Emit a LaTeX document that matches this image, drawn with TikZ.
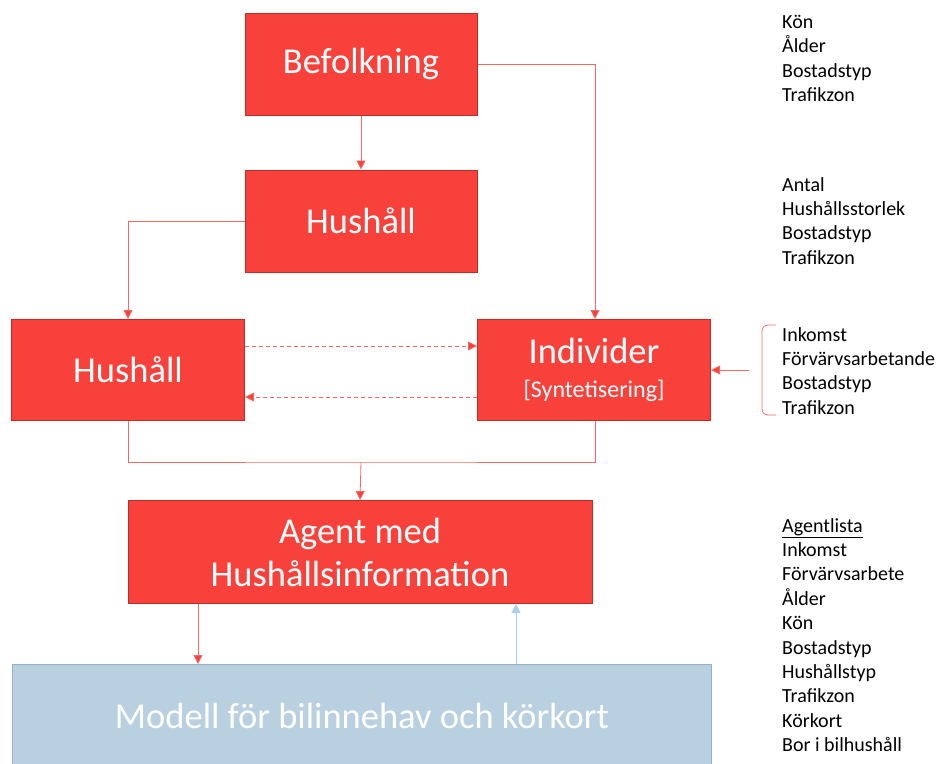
\documentclass[tikz,border=0pt]{standalone}
\usepackage{fontspec}
\setmainfont{Carlito}
\usetikzlibrary{arrows.meta,positioning}
\definecolor{redfill}{RGB}{248,65,59}
\definecolor{redborder}{RGB}{190,45,40}
\definecolor{redline}{RGB}{245,105,100}
\definecolor{bluefill}{RGB}{185,208,225}
\definecolor{blueborder}{RGB}{150,178,200}
\definecolor{blueline}{RGB}{170,208,238}
\begin{document}
\begin{tikzpicture}[x=1pt,y=-1pt,
  redbox/.style={draw=redborder,line width=1pt,fill=redfill,text=white,inner sep=0pt,
    font=\fontsize{36.5}{43}\selectfont,align=center},
  bluebox/.style={draw=blueborder,line width=1pt,fill=bluefill,inner sep=0pt},
  conn/.style={draw=redline,line width=0.8pt,-{Triangle[width=9pt,length=9pt,fill=redfill]}},
  plain/.style={draw=redline,line width=0.8pt},
  attlist/.style={anchor=north west,align=left,inner sep=0pt,
    font=\fontsize{20}{24.4}\selectfont}]
\useasboundingbox (0,0) rectangle (936,763);
% boxes
\node[redbox,minimum width=232pt,minimum height=102pt] (bef) at (361,64) {Befolkning};
\node[redbox,minimum width=232pt,minimum height=102pt] (hush1) at (361,221) {Hushåll};
\node[redbox,minimum width=233pt,minimum height=101pt] (hush2) at (128,370) {Hushåll};
\node[redbox,minimum width=233pt,minimum height=101pt] (indiv) at (594,370)
  {Individer\\[-9pt]{\fontsize{24}{28}\selectfont[Syntetisering]}};
\node[redbox,minimum width=464pt,minimum height=103pt] (agent) at (360,552)
  {Agent med\\Hushållsinformation};
\node[bluebox,minimum width=699pt,minimum height=120pt,anchor=north] (modell) at (361.5,664) {};
\node[text=white,font=\fontsize{36.5}{42}\selectfont] (modtxt) at (362,716) {Modell för bilinnehav och körkort};
% connectors
\draw[conn] (bef.south) -- (hush1.north);
\draw[conn] (bef.east) -| ([xshift=1pt]indiv.north);
\draw[conn] (hush1.west) -| (hush2.north);
\draw[conn,dash pattern=on 4pt off 3pt] ([yshift=24pt]hush2.east) -- ([yshift=24pt]indiv.west);
\draw[conn,dash pattern=on 4pt off 3pt] ([yshift=-27pt]indiv.west) -- ([yshift=-27pt]hush2.east);
\coordinate (join) at (361,462);
\draw[plain] (hush2.south) |- (join) -| ([xshift=1pt]indiv.south);
\draw[conn] (join) -- (agent.north);
\draw[conn] ([xshift=-162pt]agent.south) -- ([xshift=-162pt]agent.south |- modell.north);
\draw[line width=0.8pt,draw=blueline,-{Triangle[width=9pt,length=9pt,fill=blueline]}]
  ([xshift=156pt]agent.south |- modell.north) -- ([xshift=156pt]agent.south);
% bracket
\coordinate (brk) at (749,370);
\draw[plain] (776,325) -- (768,325) to[out=180,in=90] (762,331) -- (762,409)
  to[out=-90,in=180] (768,415) -- (776,415);
\draw[conn] (brk) -- (indiv.east);
% attribute lists
\node[attlist] (attbef) at (782,15) {Kön\\Ålder\\Bostadstyp\\Trafikzon};
\node[attlist] (atthush) at (782,177) {Antal\\Hushållsstorlek\\Bostadstyp\\Trafikzon};
\node[attlist] (attind) at (782,327) {Inkomst\\Förvärvsarbetande\\Bostadstyp\\Trafikzon};
\node[attlist] (attagent) at (782,518) {\underline{Agentlista}\\Inkomst\\Förvärvsarbete\\Ålder\\Kön\\Bostadstyp\\Hushållstyp\\Trafikzon\\Körkort\\Bor i bilhushåll};
\end{tikzpicture}
\end{document}
